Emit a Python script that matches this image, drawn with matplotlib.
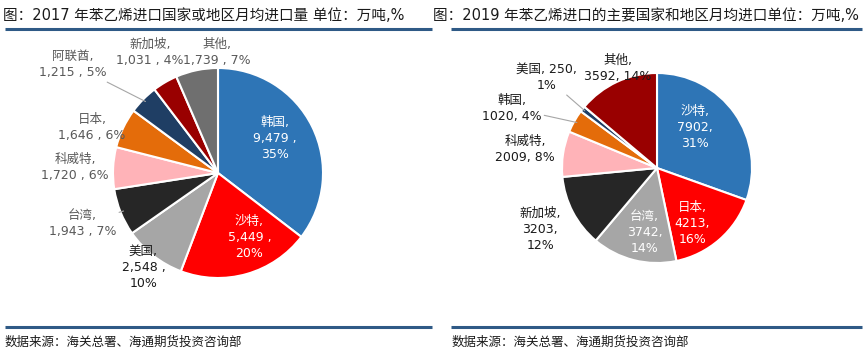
#
# Imports
#
import numpy as np
import matplotlib
matplotlib.use("Agg")
import matplotlib.pyplot as plt
from matplotlib.lines import Line2D

plt.rcParams['font.family'] = ['DejaVu Sans', 'Noto Sans CJK SC']

#
# Data
#
names_2017 = ["韩国", "沙特", "美国", "台湾", "科威特", "日本", "阿联酋", "新加坡", "其他"]
values_2017 = [9479, 5449, 2548, 1943, 1720, 1646, 1215, 1031, 1739]
pcts_2017 = [35, 20, 10, 7, 6, 6, 5, 4, 7]

names_2019 = ["沙特", "日本", "台湾", "新加坡", "科威特", "韩国", "美国", "其他"]
values_2019 = [7902, 4213, 3742, 3203, 2009, 1020, 250, 3592]
pcts_2019 = [31, 16, 14, 12, 8, 4, 1, 14]

title_2017 = "图：2017 年苯乙烯进口国家或地区月均进口量 单位：万吨,%"
title_2019 = "图：2019 年苯乙烯进口的主要国家和地区月均进口单位：万吨,%"
source_text = "数据来源：海关总署、海通期货投资咨询部"

#
# Styles / layout
#
colors_2017 = ['#2E75B6', '#FF0000', '#A6A6A6', '#262626', '#FFB3B8',
               '#E46C0A', '#1F3E64', '#990000', '#6F6F6F']
colors_2019 = ['#2E75B6', '#FF0000', '#A6A6A6', '#262626', '#FFB3B8',
               '#E46C0A', '#1F3E64', '#990000']

# label style: 3 -> three lines, 2 -> value and pct on one line, 1 -> name and value on one line
# (dx, dy) offsets in pie radius units, text colour, leader line
lay_2017 = [(3, 0.54, 0.33, 'white', False),
            (3, 0.30, -0.61, 'white', False),
            (3, -0.71, -0.90, '#1A1A1A', False),
            (2, -1.29, -0.48, '#595959', True),
            (2, -1.36, 0.05, '#595959', False),
            (2, -1.20, 0.43, '#595959', False),
            (2, -1.38, 1.03, '#595959', True),
            (2, -0.65, 1.15, '#595959', False),
            (2, -0.01, 1.15, '#595959', False)]

lay_2019 = [(3, 0.40, 0.43, 'white', False),
            (3, 0.37, -0.58, 'white', False),
            (3, -0.13, -0.68, 'white', False),
            (3, -1.23, -0.65, '#1A1A1A', False),
            (2, -1.39, 0.19, '#1A1A1A', False),
            (2, -1.53, 0.63, '#1A1A1A', True),
            (1, -1.16, 0.95, '#1A1A1A', True),
            (2, -0.41, 1.05, '#1A1A1A', False)]

W, H = 867, 357
LINE_COLOR = '#2F5A86'
LABEL_SIZE = 9


def make_label(name, val, pct, style, comma):
    v = "{:,}".format(val) if comma else str(val)
    sep = " ," if comma else ","
    if style == 3:
        return "{},\n{}{}\n{}%".format(name, v, sep, pct)
    if style == 2:
        return "{},\n{}{} {}%".format(name, v, sep, pct)
    return "{}, {},\n{}%".format(name, v, pct)


def draw_pie(fig, cx, cy, r, names, values, pcts, colors, lay, comma):
    ax = fig.add_axes([(cx - r) / W, (H - cy - r) / H, 2 * r / W, 2 * r / H])
    wedges, _ = ax.pie(values, colors=colors, startangle=90, counterclock=False,
                       radius=1.0, wedgeprops=dict(edgecolor='white', linewidth=1.5))
    ax.set_xlim(-1, 1)
    ax.set_ylim(-1, 1)
    ax.axis('off')
    for w, name, val, pct, (style, dx, dy, tc, leader) in zip(wedges, names, values, pcts, lay):
        txt = make_label(name, val, pct, style, comma)
        if leader:
            ang = np.deg2rad((w.theta1 + w.theta2) / 2)
            ax.annotate(txt, xy=(0.97 * np.cos(ang), 0.97 * np.sin(ang)), xytext=(dx, dy),
                        ha='center', va='center', fontsize=LABEL_SIZE, color=tc,
                        linespacing=1.3, annotation_clip=False,
                        arrowprops=dict(arrowstyle='-', color='#A6A6A6', lw=0.8,
                                        shrinkA=0, shrinkB=0))
        else:
            ax.text(dx, dy, txt, ha='center', va='center', fontsize=LABEL_SIZE, color=tc,
                    linespacing=1.3, clip_on=False)
    return ax


#
# Plot
#
fig = plt.figure(figsize=(W / 100, H / 100), dpi=100)

draw_pie(fig, 218, 173, 105, names_2017, values_2017, pcts_2017, colors_2017, lay_2017, True)
draw_pie(fig, 657, 168, 95, names_2019, values_2019, pcts_2019, colors_2019, lay_2019, False)

# titles
fig.text(3 / W, 1 - 15 / H, title_2017, fontsize=10.5, color='#1A1A1A', va='center', ha='left')
fig.text(433 / W, 1 - 15 / H, title_2019, fontsize=10.5, color='#1A1A1A', va='center', ha='left')

# rule lines
for x0, x1 in [(5, 432), (451, 862)]:
    for y in (29, 327):
        fig.add_artist(Line2D([x0 / W, x1 / W], [1 - y / H, 1 - y / H],
                              color=LINE_COLOR, lw=2.2, solid_capstyle='butt'))

# source notes
fig.text(5 / W, 1 - 342 / H, source_text, fontsize=9, color='#1A1A1A', va='center', ha='left')
fig.text(452 / W, 1 - 342 / H, source_text, fontsize=9, color='#1A1A1A', va='center', ha='left')

fig.savefig("out.png", dpi=100, facecolor='white')
